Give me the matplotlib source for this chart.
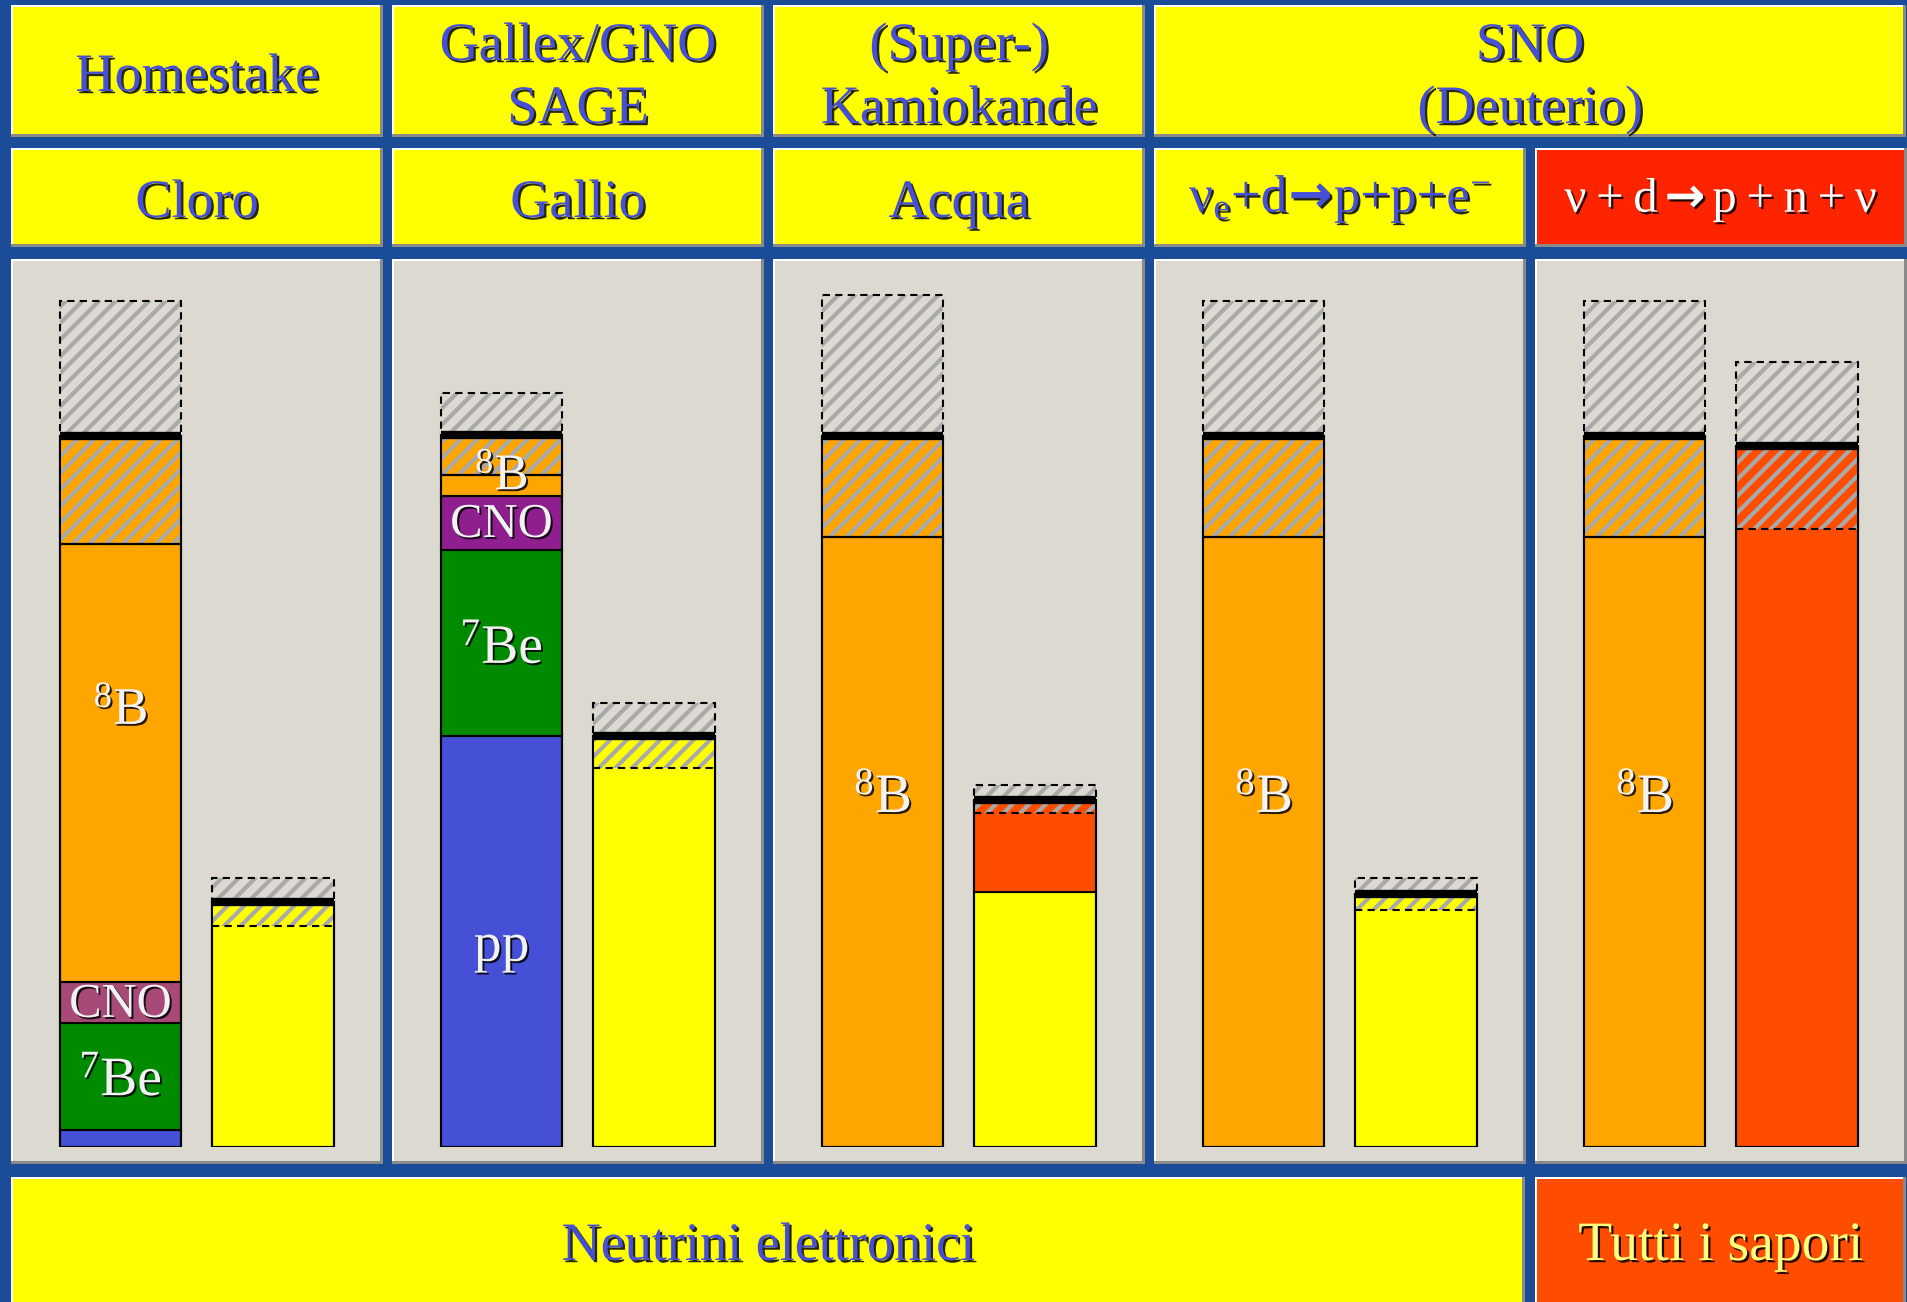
import matplotlib
matplotlib.use("Agg")
import matplotlib.pyplot as plt
from matplotlib.patches import Rectangle
import matplotlib.patheffects as pe

# ---------------------------------------------------------------- data
# Header texts
experiments = ["Homestake", "Gallex/GNO\nSAGE", "(Super-)\nKamiokande", "SNO\n(Deuterio)"]
targets = ["Cloro", "Gallio", "Acqua",
           r"ν$_{\mathrm{e}}$+d$\!\mathsf{\rightarrow}\!$p+p+e$^{-}$",
           "ν\u2009+\u2009d$\\mathsf{\\rightarrow}$p\u2009+\u2009n\u2009+\u2009ν"]
bottom_labels = ["Neutrini elettronici", "Tutti i sapori"]

# Predicted signal (Standard Solar Model = 1), split by source
ssm_pp = [0.024, 0.578, 0.0, 0.0, 0.0]
ssm_be7 = [0.150, 0.262, 0.0, 0.0, 0.0]
ssm_cno = [0.058, 0.075, 0.0, 0.0, 0.0]
ssm_b8 = [0.768, 0.086, 1.0, 1.0, 1.0]
ssm_err_up = [0.190, 0.060, 0.198, 0.190, 0.190]
ssm_err_dn = [0.152, 0.056, 0.142, 0.142, 0.142]

# Measured signal (same units): electron neutrinos and other flavours
meas_nue = [0.345, 0.578, 0.359, 0.356, 0.0]
meas_other = [0.0, 0.0, 0.129, 0.0, 0.986]
meas_err_up = [0.033, 0.046, 0.021, 0.022, 0.118]
meas_err_dn = [0.034, 0.045, 0.018, 0.023, 0.117]

# ---------------------------------------------------------------- style
BLUE_BG = "#1a4c98"
YELLOW = "#ffff00"
PANEL_GRAY = "#dcd9d1"
RED_HDR = "#ff2400"
RED_FOOT = "#ff4d00"
TXT_BLUE = "#4650d6"
C_PP = "#4650d6"
C_BE7 = "#008a00"
C_CNO = ["#a84a78", "#8f1f8f", "#8f1f8f", "#8f1f8f", "#8f1f8f"]
C_B8 = "#ffa500"
C_NUE = "#ffff00"
C_OTHER = "#ff4d00"
HATCH_C = "#a9a9a9"

plt.rcParams["font.family"] = ["Liberation Serif", "DejaVu Serif"]
plt.rcParams["mathtext.fontset"] = "custom"
plt.rcParams["mathtext.rm"] = "Liberation Serif"
plt.rcParams["mathtext.it"] = "Liberation Serif:italic"
plt.rcParams["mathtext.sf"] = "DejaVu Sans:bold"
plt.rcParams["hatch.linewidth"] = 3.0

W, H = 1908, 1302
fig = plt.figure(figsize=(W / 100, H / 100), dpi=100)
fig.patch.set_facecolor(BLUE_BG)

bg = fig.add_axes([0, 0, 1, 1])
bg.set_xlim(0, W)
bg.set_ylim(H, 0)
bg.axis("off")


def shadow(off=1.6):
    return [pe.withSimplePatchShadow(offset=(off, -off), shadow_rgbFace="black", alpha=0.85)]


def panel(x, y, w, h, color):
    bg.add_patch(Rectangle((x, y), w, h, fc="#8a8a8a", ec="none"))
    bg.add_patch(Rectangle((x, y), w - 3, h - 3, fc="white", ec="none"))
    bg.add_patch(Rectangle((x + 2, y + 2), w - 5, h - 5, fc=color, ec="none"))


lefts = [11, 392, 773, 1154, 1535]
pw = 372

# Row 1: experiments
for i in range(3):
    panel(lefts[i], 5, pw, 132, YELLOW)
panel(lefts[3], 5, 752, 132, YELLOW)
hdr_x = [lefts[0] + pw / 2, lefts[1] + pw / 2, lefts[2] + pw / 2, 1154 + 752 / 2]
for i, name in enumerate(experiments):
    lines = name.split("\n")
    if len(lines) == 1:
        bg.text(hdr_x[i], 91, lines[0], fontsize=39, color=TXT_BLUE, ha="center",
                va="baseline", path_effects=shadow())
    else:
        for ln, yb in zip(lines, [60, 123]):
            bg.text(hdr_x[i], yb, ln, fontsize=39, color=TXT_BLUE, ha="center",
                    va="baseline", path_effects=shadow())

# Row 2: targets / reactions
for i in range(5):
    panel(lefts[i], 148, pw, 99, RED_HDR if i == 4 else YELLOW)
for i, t in enumerate(targets):
    if i < 3:
        bg.text(lefts[i] + pw / 2, 217, t, fontsize=39, color=TXT_BLUE, ha="center",
                va="baseline", path_effects=shadow())
    elif i == 3:
        bg.text(lefts[i] + pw / 2, 212, t, fontsize=38, color=TXT_BLUE, ha="center",
                va="baseline", path_effects=shadow())
    else:
        bg.text(lefts[i] + pw / 2, 212, t, fontsize=35, color="white", ha="center",
                va="baseline", path_effects=shadow())

# Row 3: chart panels
for i in range(5):
    panel(lefts[i], 259, pw, 905, PANEL_GRAY)

# Row 4: flavour summary
panel(11, 1177, 1514, 140, YELLOW)
panel(1535, 1177, 371, 140, RED_FOOT)
bg.text(11 + 1514 / 2, 1260, bottom_labels[0], fontsize=39, color=TXT_BLUE,
        ha="center", va="baseline", path_effects=shadow())
bg.text(1535 + 371 / 2, 1260, bottom_labels[1], fontsize=40, color="#ffff80",
        ha="center", va="baseline", path_effects=shadow())

# ---------------------------------------------------------------- bars
Y0_PX, Y1_PX, UNIT_PX = 1147, 259, 711
BW = 0.795
X_PRED, X_MEAS = 0.0, 1.0

# label heights (baseline, in bar units) for each panel
seg_labels = [
    [(r"$^{8}$B", 0.595, 38), ("CNO", 0.183, 35), (r"$^{7}$Be", 0.073, 40)],
    [(r"$^{8}$B", 0.925, 37), ("CNO", 0.858, 35), (r"$^{7}$Be", 0.681, 40), ("pp", 0.262, 40)],
    [(r"$^{8}$B", 0.471, 40)],
    [(r"$^{8}$B", 0.471, 40)],
    [(r"$^{8}$B", 0.471, 40)],
]


def error_zone(ax, x, val, up, dn, bar_face):
    # upper: hatched, dashed-outlined box above the bar
    ax.bar(x, up, bottom=val, width=BW, color=PANEL_GRAY, edgecolor=HATCH_C,
           hatch="//", linewidth=0, zorder=3)
    ax.bar(x, up, bottom=val, width=BW, fill=False, edgecolor="black",
           linestyle=(0, (3.5, 2.5)), linewidth=1.5, zorder=4)
    # lower: hatching laid over the bar colour
    ax.bar(x, dn, bottom=val - dn, width=BW, color=bar_face, edgecolor=HATCH_C,
           hatch="//", linewidth=0, zorder=3)
    ax.hlines(val - dn, x - BW / 2, x + BW / 2, colors="black",
              linestyles=(0, (3.5, 2.5)), linewidth=1.5, zorder=4)
    # central value
    ax.hlines(val, x - BW / 2, x + BW / 2, colors="black", linewidth=6, zorder=6)


for i in range(5):
    ax = fig.add_axes([lefts[i] / W, (H - Y0_PX) / H, pw / W, (Y0_PX - Y1_PX) / H])
    ax.set_xlim(-109.5 / 152.5, (pw - 109.5) / 152.5)
    ax.set_ylim(0, (Y0_PX - Y1_PX) / UNIT_PX)
    ax.axis("off")
    ax.patch.set_alpha(0)

    # predicted, stacked by source
    segs = [(ssm_pp[i], C_PP), (ssm_be7[i], C_BE7), (ssm_cno[i], C_CNO[i]), (ssm_b8[i], C_B8)]
    base = 0.0
    top_color = C_B8
    for v, c in segs:
        if v > 0:
            ax.bar(X_PRED, v, bottom=base, width=BW, color=c, edgecolor="black",
                   linewidth=1.5, zorder=2)
            base += v
            top_color = c
    ax.bar(X_PRED, base - ssm_err_dn[i], width=BW, fill=False, edgecolor="black",
           linewidth=1.5, zorder=5)
    ax.bar(X_PRED, ssm_err_dn[i], bottom=base - ssm_err_dn[i], width=BW, fill=False,
           edgecolor="black", linewidth=1.5, zorder=5)
    error_zone(ax, X_PRED, base, ssm_err_up[i], ssm_err_dn[i], top_color)

    # measured
    mtot = meas_nue[i] + meas_other[i]
    mb = 0.0
    last = C_NUE
    for v, c in [(meas_nue[i], C_NUE), (meas_other[i], C_OTHER)]:
        if v > 0:
            ax.bar(X_MEAS, v, bottom=mb, width=BW, color=c, edgecolor="black",
                   linewidth=1.5, zorder=2)
            mb += v
            last = c
    ax.bar(X_MEAS, mtot, width=BW, fill=False, edgecolor="black", linewidth=1.5, zorder=5)
    error_zone(ax, X_MEAS, mtot, meas_err_up[i], meas_err_dn[i], last)

    for txt, yb, fs in seg_labels[i]:
        ax.text(X_PRED, yb, txt, fontsize=fs, color="#f2f2f2", ha="center",
                va="baseline", zorder=8, path_effects=shadow(1.4))

fig.savefig("out.png", dpi=100, facecolor=fig.get_facecolor())
